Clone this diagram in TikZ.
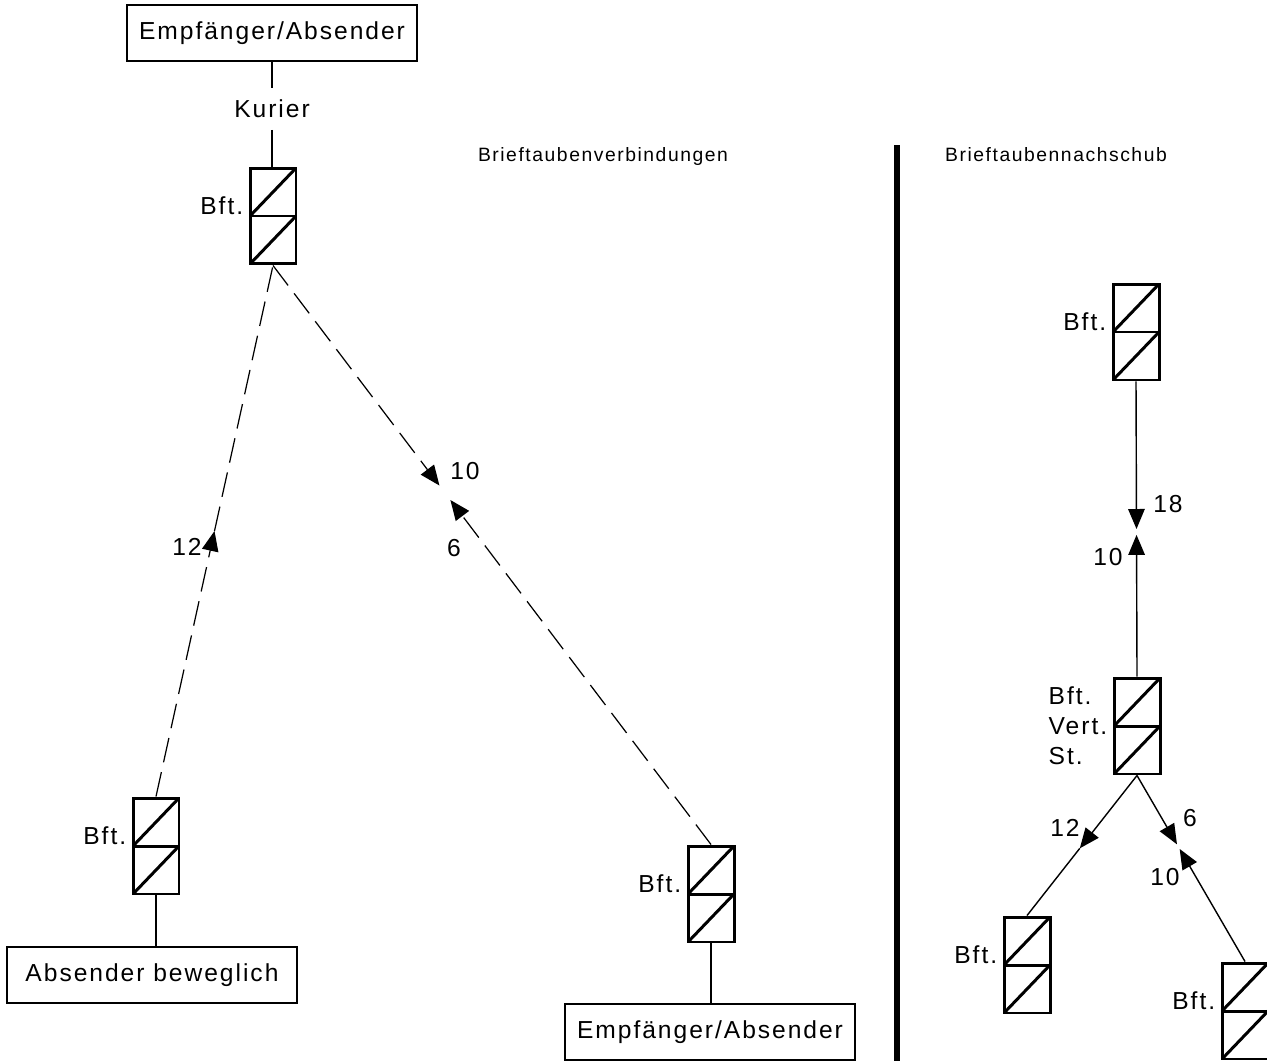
\documentclass[tikz,border=0pt]{standalone}
\usepackage{fontspec}
\setmainfont[LetterSpace=8]{Liberation Sans}
\usetikzlibrary{arrows.meta, positioning, calc}
\newcommand{\lblfont}{\fontsize{14}{17}\selectfont}
\newcommand{\headfont}{\fontsize{11}{13.5}\selectfont}
\tikzset{
  loft/.style={draw, line width=1.7pt, minimum width=0.92cm, minimum height=1.92cm, inner sep=0pt,
    path picture={
      \draw[line width=1.7pt] (path picture bounding box.west) -- (path picture bounding box.east);
      \draw[line width=1.7pt] (path picture bounding box.south west) -- (path picture bounding box.east);
      \draw[line width=1.7pt] (path picture bounding box.west) -- (path picture bounding box.north east);
    }},
  station/.style={draw, line width=1.1pt, minimum width=5.8cm, minimum height=1.13cm, font=\lblfont},
  bftlabel/.style={anchor=base east, font=\lblfont, inner sep=0pt, xshift=-0.1cm, yshift=0.03cm},
  num/.style={font=\lblfont, inner sep=0pt},
  heading/.style={font=\headfont, anchor=base, inner sep=0pt},
  conn/.style={line width=0.8pt},
  flight/.style={line width=0.7pt, dash pattern=on 0.5cm off 0.2cm},
  tip/.style={-{Triangle[length=0.4cm, width=0.33cm]}}
}
\begin{document}
\begin{tikzpicture}[x=0.02cm, y=-0.02cm]
        \useasboundingbox (0,0) rectangle (1267,1061);

        % Headings and divider
        \node[heading] (HeadLeft) at (603,161) {Brieftaubenverbindungen};
        \node[heading] (HeadRight) at (1056,161) {Brieftaubennachschub};
        \coordinate (DivTop) at (897,145);
        \coordinate (DivBot) at (897,1061);
        \draw[line width=3.5pt] (DivTop) -- (DivBot);

        % Left part: stations and lofts
        \node[station] (EmpfTop) at (272,33) {Empfänger/Absender};
        \node[font=\lblfont, inner sep=0.23cm] (Kurier) at (272,109) {Kurier};
        \node[loft] (LoftA) at (273,216) {};
        \node[loft] (LoftB) at (156,846) {};
        \node[loft] (LoftC) at (711,894) {};
        \node[station] (Absender) at (152,975) {Absender beweglich};
        \node[station] (EmpfBot) at (710,1032) {Empfänger/Absender};

        \node[bftlabel] (BftA) at (LoftA.west) {Bft.};
        \node[bftlabel] (BftB) at (LoftB.west) {Bft.};
        \node[bftlabel] (BftC) at (LoftC.west) {Bft.};

        % Courier and local links
        \draw[conn] (EmpfTop.south -| Kurier) -- (Kurier);
        \draw[conn] (Kurier) -- (Kurier |- LoftA.north);
        \draw[conn] (LoftB.south) -- (LoftB.south |- Absender.north);
        \draw[conn] (LoftC.south) -- (LoftC.south |- EmpfBot.north);

        % Pigeon flights
        \coordinate (TipB) at ($(LoftB.north)!0.5!(LoftA.south)$);
        \draw[flight, tip] (LoftB.north) -- (TipB);
        \draw[flight] (TipB) -- (LoftA.south);

        \coordinate (TipDown) at ($(LoftA.south)!0.38!(LoftC.north)$);
        \coordinate (TipUp) at ($(LoftA.south)!0.405!(LoftC.north)$);
        \draw[flight, tip] (LoftA.south) -- (TipDown);
        \draw[flight, tip] (LoftC.north) -- (TipUp);

        \node[num] (NumB) at (187,547) {12};
        \node[num] (NumDown) at (465,471) {10};
        \node[num] (NumUp) at (454,548) {6};

        % Right part: supply
        \node[loft] (LoftR) at (1136,332) {};
        \node[loft] (LoftV) at (1137,726) {};
        \node[loft] (LoftRL) at (1027,965) {};
        \node[loft] (LoftRR) at (1245,1011) {};

        \node[bftlabel] (BftR) at (LoftR.west) {Bft.};
        \node[font=\lblfont, align=left, anchor=east, inner sep=0pt, xshift=-0.1cm] (BftV) at (LoftV.west) {Bft.\\Vert.\\St.};
        \node[bftlabel] (BftRL) at (LoftRL.west) {Bft.};
        \node[bftlabel] (BftRR) at (LoftRR.west) {Bft.};

        \coordinate (TipR1) at ($(LoftR.south)!0.5!(LoftV.north)$);
        \coordinate (TipR2) at ($(LoftR.south)!0.52!(LoftV.north)$);
        \draw[conn, tip] (LoftR.south) -- (TipR1);
        \draw[conn, tip] (LoftV.north) -- (TipR2);

        \coordinate (TipRL) at ($(LoftV.south)!0.52!(LoftRL.north)$);
        \draw[conn, tip] (LoftV.south) -- (TipRL);
        \draw[conn] (TipRL) -- (LoftRL.north);

        \coordinate (TipRR1) at ($(LoftV.south)!0.37!(LoftRR.north)$);
        \coordinate (TipRR2) at ($(LoftV.south)!0.395!(LoftRR.north)$);
        \draw[conn, tip] (LoftV.south) -- (TipRR1);
        \draw[conn, tip] (LoftRR.north) -- (TipRR2);

        \node[num] (NumR1) at (1168,504) {18};
        \node[num] (NumR2) at (1108,557) {10};
        \node[num] (NumRL) at (1065,828) {12};
        \node[num] (NumRR1) at (1190,818) {6};
        \node[num] (NumRR2) at (1165,877) {10};
    \end{tikzpicture}
\end{document}
